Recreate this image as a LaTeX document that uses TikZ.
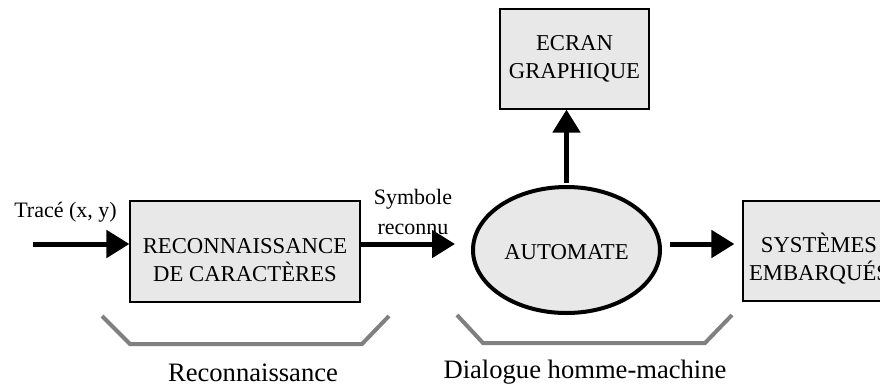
\documentclass[tikz,border=0pt]{standalone}
\usepackage{fontspec}
\setmainfont{Liberation Serif}
\usetikzlibrary{arrows.meta, positioning, shapes.geometric}
\definecolor{boxgray}{gray}{0.91}
\definecolor{bracegray}{gray}{0.5}

\begin{document}
\begin{tikzpicture}[
				x=0.5pt, y=-0.5pt,
				mbox/.style={draw=black, line width=0.6pt, fill=boxgray, inner sep=0pt, align=center, font=\fontsize{11.35}{14}\selectfont},
				autonode/.style={ellipse, draw=black, line width=2pt, fill=boxgray, inner sep=0pt, minimum width=93.5pt, minimum height=63pt, font=\fontsize{11.35}{14}\selectfont},
				arrowstyle/.style={-{Triangle[length=11.5pt, width=13.5pt]}, line width=2.5pt},
				bracket/.style={draw=bracegray, line width=2pt},
				lbl/.style={inner sep=0pt, align=center, font=\fontsize{11}{15}\selectfont},
				grouplbl/.style={inner sep=0pt, font=\fontsize{13.3}{16}\selectfont}
			]
			\useasboundingbox (0,0) rectangle (880,387);
			\clip (0,0) rectangle (880,387);
			\node[mbox, minimum width=115pt, minimum height=50.5pt] (reco) at (245,251.5) {\rule{0pt}{16pt}RECONNAISSANCE\\DE CARACTÈRES};
			\node[mbox, minimum width=74.5pt, minimum height=50pt] (ecran) at (574.5,59) {ECRAN\\GRAPHIQUE};
			\node[autonode] (auto) at (566.5,250) {\rule{0pt}{10pt}AUTOMATE};
			\node[mbox, minimum width=76pt, minimum height=50pt] (sys) at (819,251) {\rule{0pt}{17pt}SYSTÈMES\\EMBARQUÉS};
			\coordinate (in) at (33,244);
			\node[lbl] (tracelbl) at (65.5,212) {Tracé (x, y)};
			\node[lbl] (symlbl) at (413,212) {Symbole\\reconnu};
			\draw[arrowstyle] (in) -- (in -| reco.west);
			\draw[arrowstyle] (reco.east |- in) -- ([xshift=-8pt]auto.west |- in);
			\draw[arrowstyle, shorten <=4pt, shorten >=4pt] (auto.east |- in) -- (sys.west |- in);
			\draw[arrowstyle, shorten <=1pt] (auto.north) -- (auto.north |- ecran.south);
			\draw[bracket] (102,316) -- (130,344) -- (362,344) -- (389,316);
			\draw[bracket] (457,315) -- (483,343) -- (705,343) -- (732,315);
			\node[grouplbl] (recolbl) at (253,373) {Reconnaissance};
			\node[grouplbl] (dialbl) at (585,372) {Dialogue homme-machine};
		\end{tikzpicture}
\end{document}
